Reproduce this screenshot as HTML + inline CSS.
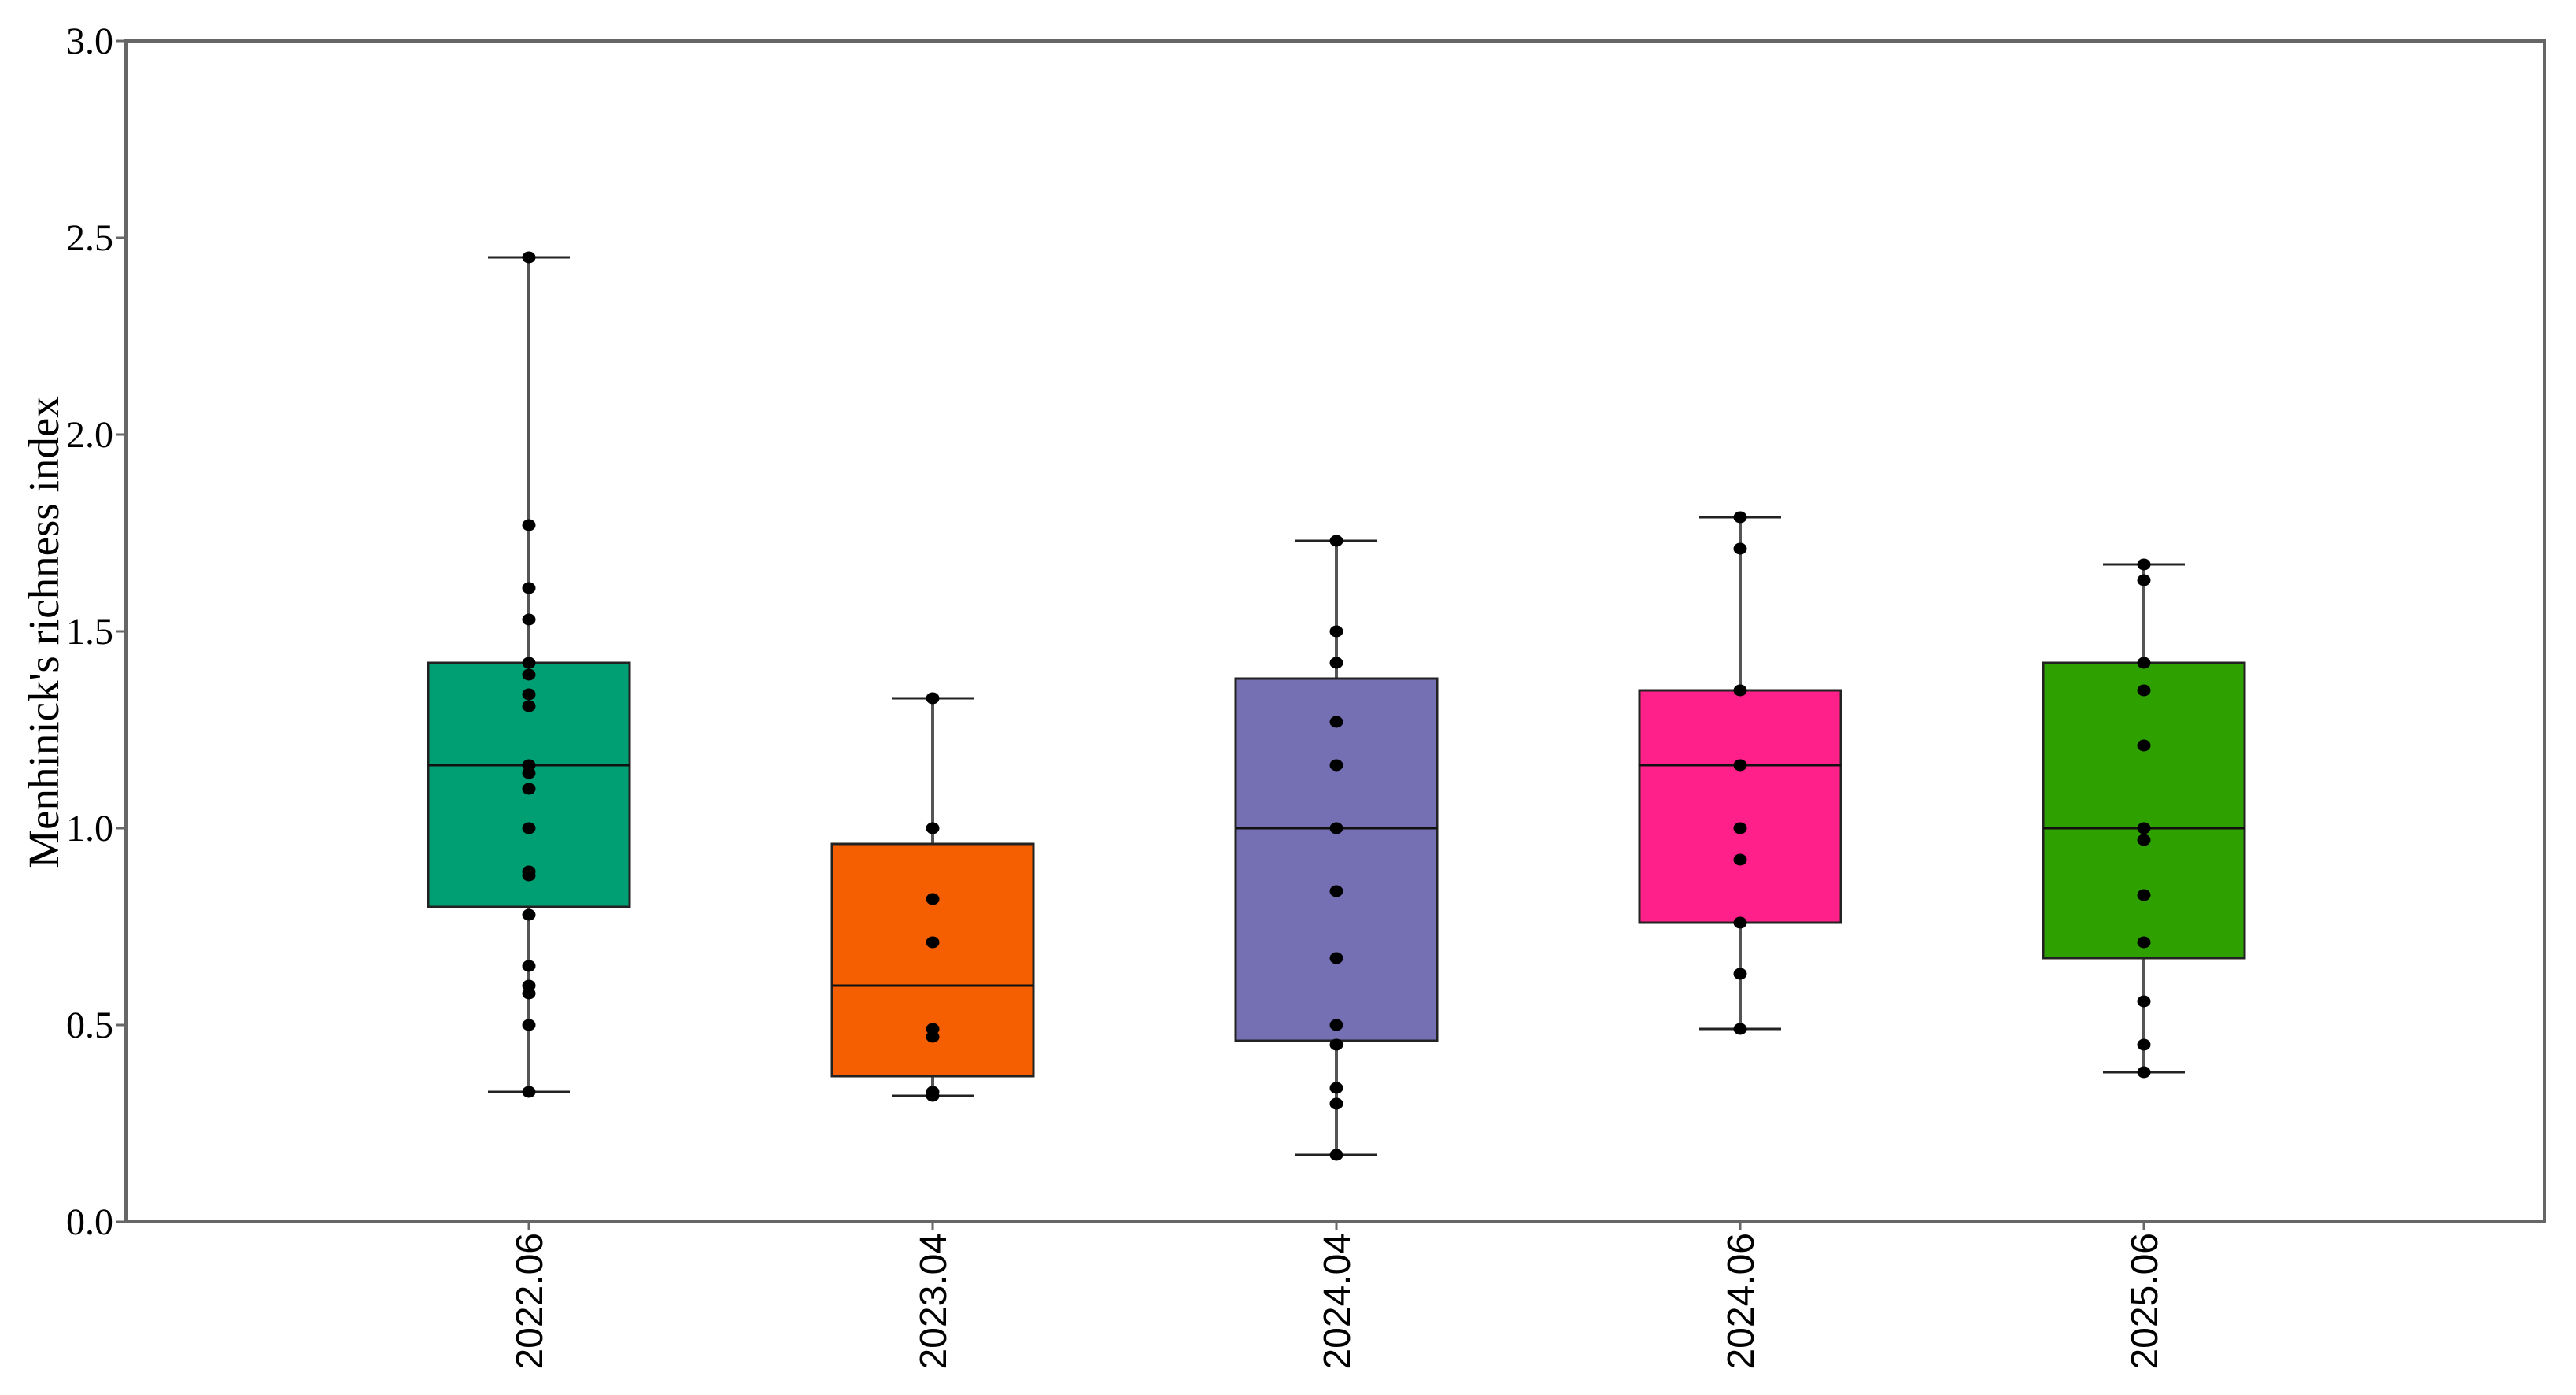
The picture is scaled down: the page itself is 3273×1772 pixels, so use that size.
<!DOCTYPE html>
<html><head><meta charset="utf-8"><style>
html,body{margin:0;padding:0;background:#fff;}
svg{display:block;}
</style></head><body>
<svg id="chart" width="3273" height="1772" viewBox="0 0 3273 1772" xmlns="http://www.w3.org/2000/svg">
<rect x="0" y="0" width="3273" height="1772" fill="#fff"/>
<g id="boxes"></g>
<g id="axes"></g>
</svg>
<script>
const categories = ["2022.06","2023.04","2024.04","2024.06","2025.06"];
const colors = ["#009E73","#F55F02","#7570B3","#FF2189","#2EA000"];
const mins = [0.33,0.32,0.17,0.49,0.38];
const q1s = [0.80,0.37,0.46,0.76,0.67];
const medians = [1.16,0.60,1.00,1.16,1.00];
const q3s = [1.42,0.96,1.38,1.35,1.42];
const maxs = [2.45,1.33,1.73,1.79,1.67];
const points0 = [2.45,1.77,1.61,1.53,1.42,1.39,1.34,1.31,1.16,1.14,1.10,1.00,0.89,0.88,0.78,0.65,0.60,0.58,0.50,0.33];
const points1 = [1.33,1.00,0.82,0.71,0.49,0.47,0.33,0.32];
const points2 = [1.73,1.50,1.42,1.27,1.16,1.00,0.84,0.67,0.50,0.45,0.34,0.30,0.17];
const points3 = [1.79,1.71,1.35,1.16,1.00,0.92,0.76,0.63,0.49];
const points4 = [1.67,1.63,1.42,1.35,1.21,1.00,0.97,0.83,0.71,0.56,0.45,0.38];
const yTicks = [0,0.5,1.0,1.5,2.0,2.5,3.0];
const yTickLabels = ["0.0","0.5","1.0","1.5","2.0","2.5","3.0"];
const yTitle = "Menhinick's richness index";

const NS="http://www.w3.org/2000/svg";
const L=160,R=3233,T=52,B=1552;
const yMin=0,yMax=3;
function y(v){return B-(v-yMin)/(yMax-yMin)*(B-T);}
const first=672,step=513;
function x(i){return first+i*step;}
function mk(tag,attrs,parent){const e=document.createElementNS(NS,tag);for(const k in attrs)e.setAttribute(k,attrs[k]);parent.appendChild(e);return e;}
const gB=document.getElementById('boxes'),gA=document.getElementById('axes');
const allPts=[points0,points1,points2,points3,points4];
const hw=128,cap=52;
categories.forEach((c,i)=>{
  const cx=x(i);
  const g=mk('g',{},gB);
  
  
  const wl=mk('line',{x1:cx,x2:cx,y1:y(maxs[i]),y2:y(mins[i]),stroke:'#555','stroke-width':4},g);
  
  
  const ct=mk('line',{x1:cx-cap,x2:cx+cap,y1:y(maxs[i]),y2:y(maxs[i]),stroke:'#222','stroke-width':3},g);
  
  
  const cb=mk('line',{x1:cx-cap,x2:cx+cap,y1:y(mins[i]),y2:y(mins[i]),stroke:'#222','stroke-width':3},g);
  
  
  const bx=mk('rect',{x:cx-hw,y:y(q3s[i]),width:2*hw,height:y(q1s[i])-y(q3s[i]),fill:colors[i],stroke:'#222','stroke-width':3},g);
  
  
  const md=mk('line',{x1:cx-hw,x2:cx+hw,y1:y(medians[i]),y2:y(medians[i]),stroke:'#111','stroke-width':3},g);
  
  
  allPts[i].forEach(v=>{
    const p=mk('ellipse',{cx:cx,cy:y(v),rx:8.5,ry:7.5,fill:'#000'},g);
    
    
  });
  const tk=mk('line',{x1:cx,x2:cx,y1:B,y2:B+10,stroke:'#666','stroke-width':3},gA);
  
  
  const t=mk('text',{x:0,y:0,transform:`translate(${cx+17},${B+14}) rotate(-90)`,'text-anchor':'end','font-family':'"Liberation Sans", sans-serif','font-size':48,fill:'#000'},gA);
  t.textContent=c;
  
  
});
const frame=mk('rect',{x:L,y:T,width:R-L,height:B-T,fill:'none',stroke:'#666','stroke-width':4},gA);


yTicks.forEach((v,i)=>{
  const tk=mk('line',{x1:L-12,x2:L,y1:y(v),y2:y(v),stroke:'#666','stroke-width':3},gA);
  
  
  const t=mk('text',{x:L-16,y:y(v)+16,'text-anchor':'end','font-family':'"Liberation Serif", serif','font-size':48,fill:'#000'},gA);
  t.textContent=yTickLabels[i];
  
  
});
const yt=mk('text',{x:0,y:0,transform:'translate(74,803) rotate(-90)','text-anchor':'middle','font-family':'"Liberation Serif", serif','font-size':55,fill:'#000'},gA);
yt.textContent=yTitle;


</script>
</body></html>
